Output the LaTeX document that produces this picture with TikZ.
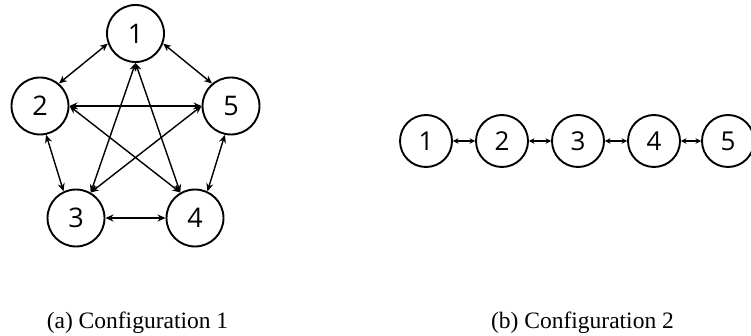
\documentclass[tikz,border=0pt]{standalone}
\usepackage{fontspec}
\setmainfont{Liberation Serif}
\newfontfamily\digitfont{Open Sans}
\usetikzlibrary{arrows.meta}
\begin{document}
\begin{tikzpicture}[x=1pt,y=-1pt,
  bignode/.style={circle,draw,line width=1.9pt,minimum size=57pt,inner sep=0pt,font=\digitfont\fontsize{27}{27}\selectfont},
  smallnode/.style={circle,draw,line width=1.9pt,minimum size=52pt,inner sep=0pt,font=\digitfont\fontsize{26}{26}\selectfont},
  biarrow/.style={line width=1.4pt,{Stealth[length=8pt,width=7pt]}-{Stealth[length=8pt,width=7pt]}},
  smallarrow/.style={line width=1.4pt,{Stealth[length=5.5pt,width=5.5pt]}-{Stealth[length=5.5pt,width=5.5pt]}},
  caption/.style={font=\fontsize{23.5}{23.5}\selectfont,anchor=base}]
\useasboundingbox (0,0) rectangle (751,336);
% configuration 1
\node[bignode] (a1) at (135.5,33.5) {1};
\node[bignode] (a2) at (40,106) {2};
\node[bignode] (a5) at (231,106) {5};
\node[bignode] (a3) at (76,218) {3};
\node[bignode] (a4) at (195,218) {4};
\draw[biarrow] (a1.200) -- (a2.50);
\draw[biarrow] (a1.340) -- (a5.130);
\draw[biarrow] (a2.282) -- (a3.115);
\draw[biarrow] (a5.258) -- (a4.65);
\draw[biarrow] (a3.east) -- (a4.west);
\draw[biarrow] (a2.east) -- (a5.west);
\draw[biarrow] (a2.east) -- (a4.120);
\draw[biarrow] (a5.west) -- (a3.60);
\draw[biarrow] (a1.south) -- (a3.60);
\draw[biarrow] (a1.south) -- (a4.120);
% configuration 2
\node[smallnode] (b1) at (426,141) {1};
\node[smallnode] (b2) at (502,141) {2};
\node[smallnode] (b3) at (578,141) {3};
\node[smallnode] (b4) at (654,141) {4};
\node[smallnode] (b5) at (728,141) {5};
\draw[smallarrow] (b1.east) -- (b2.west);
\draw[smallarrow] (b2.east) -- (b3.west);
\draw[smallarrow] (b3.east) -- (b4.west);
\draw[smallarrow] (b4.east) -- (b5.west);
% captions
\node[caption] (capa) at (137.5,328) {(a) Configuration 1};
\node[caption] (capb) at (582.5,328) {(b) Configuration 2};
\end{tikzpicture}
\end{document}
